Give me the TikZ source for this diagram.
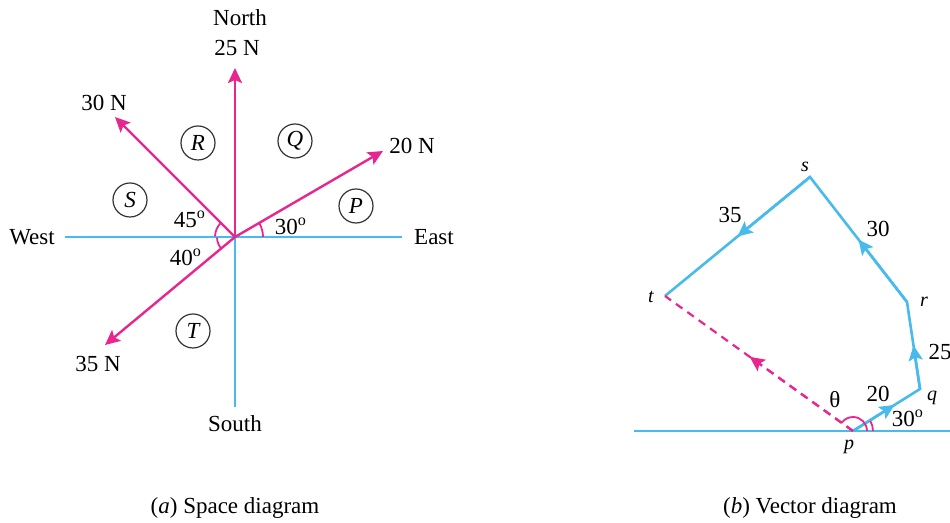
\documentclass[tikz,border=0pt]{standalone}
\usepackage{fontspec}
\setmainfont{Liberation Serif}
\usetikzlibrary{arrows.meta, positioning, calc}
\definecolor{forcepink}{RGB}{232,38,142}
\definecolor{lineblue}{RGB}{72,186,236}
\newcommand{\dg}{\textsuperscript{o}}

\begin{document}
\begin{tikzpicture}[x=0.5pt, y=0.5pt, >={Stealth[length=7.5pt, width=7pt, inset=1.5pt]},
  font=\fontsize{11.5}{13}\selectfont,
  axis/.style={lineblue, line width=1.4pt},
  force/.style={->, forcepink, line width=1.2pt},
  zone/.style={draw, circle, semithick, black!80, text=black, minimum size=17pt, inner sep=0pt, font=\fontsize{11.5}{13}\selectfont\itshape},
  angmark/.style={forcepink, line width=0.9pt},
  vec/.style={lineblue, line width=1.3pt},
  res/.style={forcepink, line width=1.1pt, dash pattern=on 4pt off 3pt}]
\useasboundingbox (0,0) rectangle (950,523);
% (a) space diagram
\coordinate (O) at (235,286);
\coordinate (wEnd) at (65,286); \coordinate (eEnd) at (402,286); \coordinate (sEnd) at (235,116);
\coordinate (f25) at (235,455); \coordinate (f30) at (115,406); \coordinate (f20) at (383,372); \coordinate (f35) at (105,178);
\draw[axis] (wEnd) -- (eEnd); \draw[axis] (O) -- (sEnd);
\draw[force] (O) -- (f25); \draw[force] (O) -- (f30); \draw[force] (O) -- (f20); \draw[force] (O) -- (f35);
\node (west) at (32,286) {West}; \node (east) at (434,286) {East};
\node (south) at (235,99) {South}; \node (north) at (240,505) {North};
\node (l25) at (237,475) {25 N}; \node (l30) at (104,420) {30 N};
\node (l20) at (412,377) {20 N}; \node (l35) at (98,159) {35 N};
\node[zone] (zR) at (198,380) {R}; \node[zone] (zQ) at (295,382) {Q}; \node[zone] (zS) at (130,323) {S};
\node[zone] (zP) at (356,317) {P}; \node[zone] (zT) at (193,192) {T};
\draw[angmark] ([shift={(0:14pt)}]O) arc[start angle=0, end angle=30, radius=14pt];
\draw[angmark] ([shift={(135:10pt)}]O) arc[start angle=135, end angle=178, radius=10pt];
\draw[angmark] ([shift={(182:9pt)}]O) arc[start angle=182, end angle=220, radius=9pt];
\node (a45) at (190,304) {45\dg}; \node (a30) at (291,297) {30\dg}; \node (a40) at (186,266) {40\dg};
\node (capA) at (235,15) {(\textit{a}) Space diagram};
% (b) vector diagram
\coordinate (bl) at (634,92); \coordinate (br) at (950,92);
\coordinate (p) at (853,92); \coordinate (q) at (920,134); \coordinate (r) at (907,221);
\coordinate (s) at (810,346); \coordinate (t) at (665,227);
\draw[axis] (bl) -- (br);
\draw[vec] (p) -- (q) -- (r) -- (s) -- (t);
\draw[vec, ->] (p) -- ($(p)!0.62!(q)$); \draw[vec, ->] (q) -- ($(q)!0.5!(r)$);
\draw[vec, ->] (r) -- ($(r)!0.5!(s)$); \draw[vec, ->] (s) -- ($(s)!0.5!(t)$);
\draw[res] (p) -- (t); \draw[res, ->] (p) -- ($(p)!0.55!(t)$);
\draw[angmark] ([shift={(0:10pt)}]p) arc[start angle=0, end angle=30, radius=10pt];
\draw[angmark] ([shift={(0:7pt)}]p) arc[start angle=0, end angle=145, radius=7pt];
\node[font=\itshape] (ls) at (805,356) {s}; \node[font=\itshape] (lt) at (651,226) {t};
\node[font=\itshape] (lr) at (924,221) {r}; \node[font=\itshape] (lq) at (932,125) {q};
\node[font=\itshape] (lp) at (849,76) {p};
\node (m35) at (730,308) {35}; \node (m30) at (878,294) {30}; \node (m25) at (940,171) {25};
\node (m20) at (878,129) {20}; \node (b30) at (908,105) {30\dg}; \node (th) at (835,123) {θ};
\node (capB) at (810,15) {(\textit{b}) Vector diagram};
\end{tikzpicture}
\end{document}
